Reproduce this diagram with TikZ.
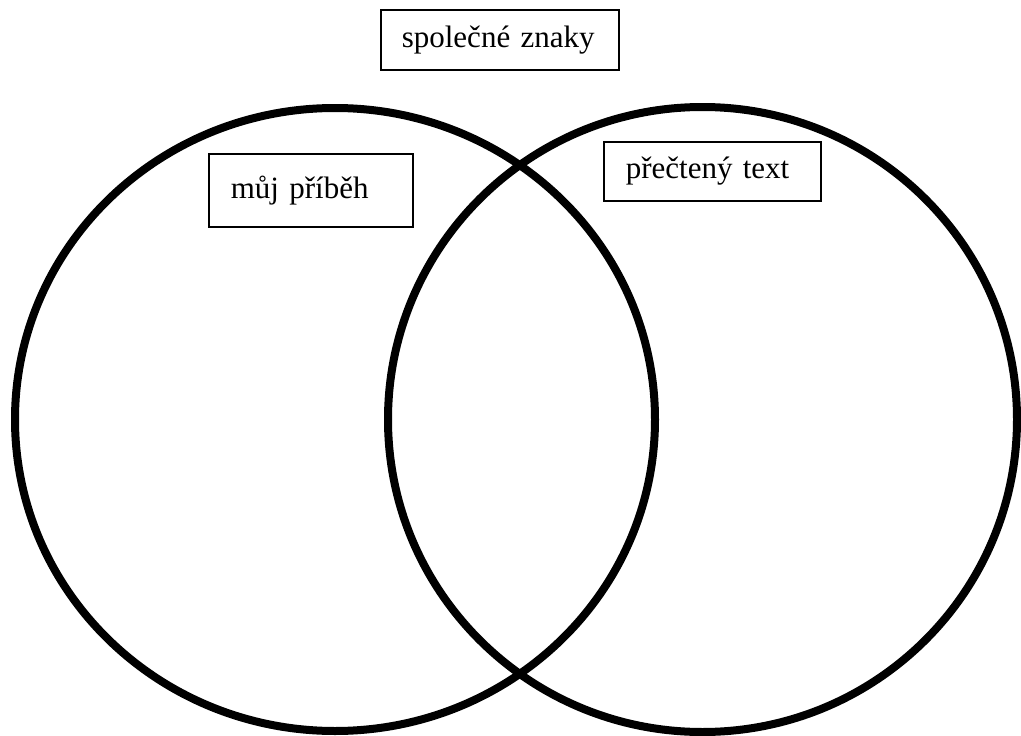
\documentclass[tikz,border=0pt]{standalone}
\usepackage{fontspec}
\setmainfont{Liberation Serif}
\begin{document}
\begin{tikzpicture}[x=1pt,y=-1pt,
  ring/.style={draw=black,line width=8pt},
  labelbox/.style={draw=black,line width=1.6pt,fill=white,inner ysep=0pt,
    font=\fontsize{31}{36}\selectfont,align=left,anchor=north west}]
\useasboundingbox (0,0) rectangle (1021,736);
\draw[ring] (335,419.5) ellipse [x radius=320, y radius=311.5];
\draw[ring] (702.5,419.5) ellipse [x radius=314.5, y radius=312.5];
\node[labelbox,minimum width=238pt,minimum height=60pt,text width=196pt,inner xsep=21pt] (common) at (380,9) {společné znaky};
\node[labelbox,minimum width=204pt,minimum height=73pt,text width=160pt,inner xsep=22pt] (mine) at (208,153) {můj příběh};
\node[labelbox,minimum width=217pt,minimum height=59pt,text width=173pt,inner xsep=22pt] (read) at (603,141) {přečtený text};
\end{tikzpicture}
\end{document}
